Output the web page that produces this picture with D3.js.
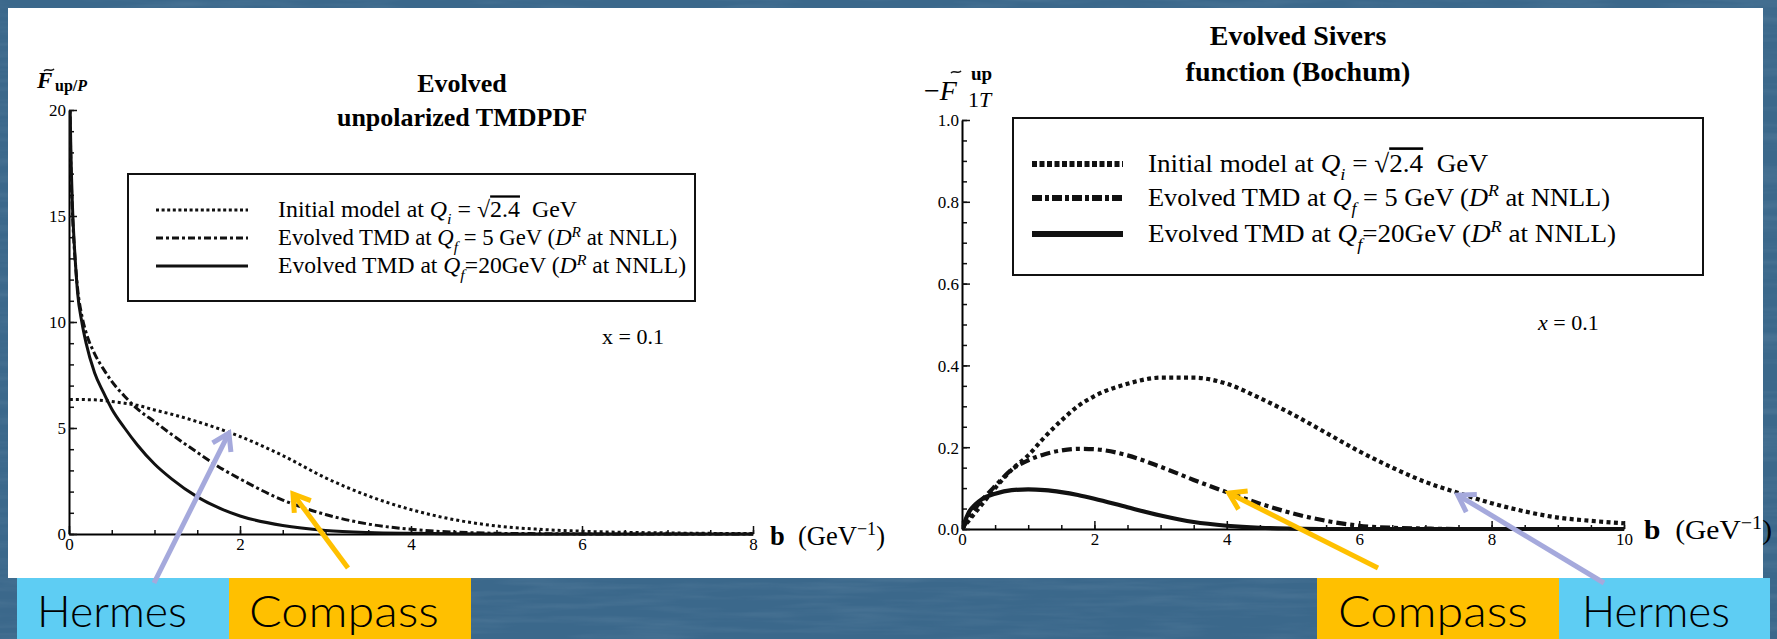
<!DOCTYPE html>
<html>
<head>
<meta charset="utf-8">
<script src="https://cdn.jsdelivr.net/npm/d3@7"></script>
<style>
  body { margin: 0; background: #3b688b; }
  svg { display: block; }
  text { font-family: "Liberation Serif", "Times New Roman", serif; fill: #000; white-space: pre; }
</style>
</head>
<body>
<svg id="chart" width="1777" height="639"></svg>
<script>
// ---------- data ----------

// left panel: evolved unpolarized TMDPDF (x = 0.1)
const leftB       = [0.01, 0.02, 0.04, 0.06, 0.08, 0.1, 0.15, 0.2, 0.3, 0.4, 0.5, 0.65, 0.8, 1.0, 1.2, 1.5, 1.8, 2.0, 2.5, 3.0, 3.5, 4.0, 4.5, 5.0, 5.5, 6.0, 7.0, 8.0];
const leftInitial = [6.35, 6.35, 6.35, 6.35, 6.35, 6.35, 6.35, 6.34, 6.33, 6.3, 6.25, 6.17, 6.07, 5.85, 5.65, 5.3, 4.9, 4.6, 3.7, 2.65, 1.8, 1.15, 0.68, 0.38, 0.22, 0.13, 0.05, 0.02];
const leftQ5      = [20.5, 17.8, 15.2, 13.6, 12.5, 11.6, 10.3, 9.5, 8.5, 7.8, 7.2, 6.5, 5.9, 5.3, 4.7, 3.85, 3.05, 2.6, 1.6, 0.92, 0.47, 0.22, 0.09, 0.035, 0.015, 0.005, 0, 0];
const leftQ20     = [21, 18.5, 15.5, 13.8, 12.5, 11.4, 10.0, 9.0, 7.6, 6.7, 5.9, 5.0, 4.2, 3.3, 2.6, 1.75, 1.15, 0.85, 0.4, 0.17, 0.07, 0.03, 0.01, 0, 0, 0, 0, 0];

// right panel: evolved Sivers function (Bochum)
const rightB       = [0, 0.1, 0.2, 0.3, 0.5, 0.75, 1, 1.25, 1.5, 1.75, 2, 2.5, 3, 3.5, 4, 4.5, 5, 5.5, 6, 6.5, 7, 7.5, 8, 8.5, 9, 9.5, 10];
const rightInitial = [0, 0.02, 0.04, 0.06, 0.1, 0.145, 0.18, 0.225, 0.265, 0.3, 0.325, 0.355, 0.37, 0.37, 0.355, 0.32, 0.28, 0.235, 0.19, 0.15, 0.115, 0.088, 0.063, 0.043, 0.028, 0.02, 0.014];
const rightQ5      = [0, 0.025, 0.05, 0.07, 0.105, 0.145, 0.168, 0.183, 0.192, 0.196, 0.195, 0.18, 0.152, 0.12, 0.09, 0.062, 0.038, 0.02, 0.008, 0.003, 0.001, 0, 0, 0, 0, 0, 0];
const rightQ20     = [0, 0.04, 0.06, 0.073, 0.086, 0.095, 0.097, 0.095, 0.09, 0.083, 0.074, 0.053, 0.033, 0.017, 0.008, 0.003, 0.001, 0, 0, 0, 0, 0, 0, 0, 0, 0, 0];

// ticks
const leftXTicks  = [0, 2, 4, 6, 8];
const leftYTicks  = [0, 5, 10, 15, 20];
const rightXTicks = [0, 2, 4, 6, 8, 10];
const rightYTicks = [0, 0.2, 0.4, 0.6, 0.8, 1.0];

// legend entries (same for both panels)
const legendLabels = [
  [{t: "Initial model at "}, {t: "Q", i: 1}, {t: "i", i: 1, sub: 1}, {t: " = √"}, {t: "2.4", over: 1}, {t: "  GeV"}],
  [{t: "Evolved TMD at "}, {t: "Q", i: 1}, {t: "f", i: 1, sub: 1}, {t: " = 5 GeV ("}, {t: "D", i: 1}, {t: "R", i: 1, sup: 1}, {t: " at NNLL)"}],
  [{t: "Evolved TMD at "}, {t: "Q", i: 1}, {t: "f", i: 1, sub: 1}, {t: "=20GeV ("}, {t: "D", i: 1}, {t: "R", i: 1, sup: 1}, {t: " at NNLL)"}]
];
const xAxisLabel = [{t: "b", b: 1}, {t: "  (GeV"}, {t: "−1", sup: 1}, {t: ")"}];

// experiment call-outs at the bottom
const callouts = ["Hermes", "Compass", "Compass", "Hermes"];

// ---------- drawing ----------
const svg = d3.select("#chart");
const W = 1777, H = 639;

// textured slide background
const defs = svg.append("defs");
const flt = defs.append("filter").attr("id", "grain").attr("x", 0).attr("y", 0).attr("width", "100%").attr("height", "100%");
flt.append("feTurbulence").attr("type", "fractalNoise").attr("baseFrequency", "0.01 0.12").attr("numOctaves", 3).attr("seed", 4);
flt.append("feColorMatrix").attr("values", "0 0 0 0 0.7  0 0 0 0 0.8  0 0 0 0 0.9  0 0 0 0.5 -0.2");
svg.append("rect").attr("width", W).attr("height", H).attr("fill", "#3b688b");
svg.append("rect").attr("width", W).attr("height", H).attr("filter", "url(#grain)").attr("opacity", 0.35);

// white figure panel
svg.append("rect").attr("x", 8).attr("y", 8).attr("width", 1755).attr("height", 570).attr("fill", "#fff");

// add rich text (italic / sub / sup / overline) into a text element
function rich(textSel, parts, size) {
  let shift = 0;
  parts.forEach(p => {
    const s = p.sub ? size * 0.28 : p.sup ? -size * 0.38 : 0;
    const ts = textSel.append("tspan").text(p.t);
    if (s !== shift) ts.attr("dy", s - shift);
    shift = s;
    if (p.i) ts.attr("font-style", "italic");
    if (p.b) ts.attr("font-weight", "bold");
    if (p.sub || p.sup) ts.attr("font-size", size * 0.68);
    if (p.over) ts.style("text-decoration", "overline");
  });
}

// small tilde accent drawn as a path
function tilde(cx, cy, w) {
  const h = w * 0.22;
  svg.append("path")
    .attr("d", `M${cx - w / 2},${cy + h / 2} C${cx - w / 4},${cy - h * 1.4} ${cx + w / 4},${cy + h * 1.4} ${cx + w / 2},${cy - h / 2}`)
    .attr("fill", "none").attr("stroke", "#111").attr("stroke-width", 1.4);
}

function drawPanel(p) {
  const x = d3.scaleLinear().domain(p.xDomain).range(p.xRange);
  const y = d3.scaleLinear().domain(p.yDomain).range(p.yRange);
  const g = svg.append("g");

  // clip so the steep curves stop at the top of the frame
  defs.append("clipPath").attr("id", p.id + "-clip")
    .append("rect")
      .attr("x", p.xRange[0]).attr("y", p.yRange[1])
      .attr("width", p.xRange[1] - p.xRange[0] + 2)
      .attr("height", p.yRange[0] - p.yRange[1] + 2);

  // minor ticks first
  const minorX = d3.range(p.xDomain[0], p.xDomain[1] + 1e-9, p.xMinorStep);
  const minorY = d3.range(p.yDomain[0], p.yDomain[1] + 1e-9, p.yMinorStep);
  g.append("g").attr("transform", `translate(0,${y(0)})`)
    .call(d3.axisBottom(x).tickValues(minorX).tickFormat("").tickSize(-4).tickSizeOuter(0))
    .call(a => a.select(".domain").remove());
  g.append("g").attr("transform", `translate(${x(0)},0)`)
    .call(d3.axisLeft(y).tickValues(minorY).tickFormat("").tickSize(-5).tickSizeOuter(0))
    .call(a => a.select(".domain").remove());

  // major ticks, pointing into the plot like Mathematica frames
  const xa = g.append("g").attr("transform", `translate(0,${y(0)})`)
    .call(d3.axisBottom(x).tickValues(p.xTicks).tickSize(-8).tickSizeOuter(0).tickPadding(4));
  const ya = g.append("g").attr("transform", `translate(${x(0)},0)`)
    .call(d3.axisLeft(y).tickValues(p.yTicks).tickFormat(p.yFmt).tickSize(-8).tickSizeOuter(0).tickPadding(3));
  [xa, ya].forEach(a => {
    a.attr("font-family", null).attr("font-size", null);
    a.selectAll("text").attr("font-size", p.tickSize).attr("fill", "#111");
    a.select(".domain").attr("stroke-width", 2);
  });
  ya.selectAll("text").attr("dy", "0.35em");
  g.selectAll(".tick line").attr("stroke", "#111").attr("stroke-width", 1.5);

  // curves
  const line = d3.line().x(d => x(d[0])).y(d => y(d[1])).curve(d3.curveMonotoneX);
  const cg = g.append("g").attr("clip-path", `url(#${p.id}-clip)`);
  p.series.forEach(s => {
    cg.append("path")
      .datum(p.b.map((b, k) => [b, s.values[k]]))
      .attr("d", line)
      .attr("fill", "none")
      .attr("stroke", "#111")
      .attr("stroke-width", p.lineWidth)
      .attr("stroke-dasharray", s.dash);
  });

  // legend
  const L = p.legend;
  g.append("rect").attr("x", L.x).attr("y", L.y).attr("width", L.w).attr("height", L.h)
    .attr("fill", "#fff").attr("stroke", "#111").attr("stroke-width", 2);
  p.series.forEach((s, k) => {
    const cy = L.rows[k];
    g.append("line").attr("x1", L.sx0).attr("x2", L.sx1).attr("y1", cy).attr("y2", cy)
      .attr("stroke", "#111").attr("stroke-width", L.sw).attr("stroke-dasharray", s.legendDash);
    const t = g.append("text").attr("x", L.tx).attr("y", cy + L.fs * 0.32)
      .attr("font-size", L.fs).attr("textLength", L.tw[k]).attr("lengthAdjust", "spacingAndGlyphs");
    rich(t, legendLabels[k], L.fs);
  });

  // x-axis title
  const xt = g.append("text").attr("x", p.xLabel.x).attr("y", p.xLabel.y).attr("font-size", 27)
    .attr("textLength", p.xLabel.w).attr("lengthAdjust", "spacingAndGlyphs");
  rich(xt, xAxisLabel, 27);

  // x = 0.1 note
  const xn = g.append("text").attr("x", p.note.x).attr("y", p.note.y).attr("font-size", 22);
  rich(xn, [{t: "x", i: p.note.italic}, {t: " = 0.1"}], 22);

  // title
  p.title.lines.forEach((s, k) => {
    g.append("text").attr("x", p.title.x).attr("y", p.title.y[k]).attr("text-anchor", "middle")
      .attr("font-size", p.title.size).attr("font-weight", "bold").text(s);
  });
  return {x, y};
}

const left = drawPanel({
  id: "left",
  xDomain: [0, 8], yDomain: [0, 20], xRange: [69, 753], yRange: [534, 110],
  xTicks: leftXTicks, yTicks: leftYTicks, xMinorStep: 0.5, yMinorStep: 1,
  yFmt: d3.format("d"), tickSize: 17, lineWidth: 3,
  b: leftB,
  series: [
    {values: leftInitial, dash: "3,3", legendDash: "3,2.6"},
    {values: leftQ5, dash: "8,3,3,3", legendDash: "7,3,3,3"},
    {values: leftQ20, dash: null, legendDash: null}
  ],
  legend: {x: 128, y: 174, w: 567, h: 127, rows: [210, 238, 266], sx0: 156, sx1: 248, sw: 3,
           tx: 278, fs: 23, tw: [299, 399, 408]},
  xLabel: {x: 770, y: 545, w: 115},
  note: {x: 602, y: 344, italic: 0},
  title: {x: 462, y: [92, 126], size: 26, lines: ["Evolved", "unpolarized TMDPDF"]}
});

const right = drawPanel({
  id: "right",
  xDomain: [0, 10], yDomain: [0, 1], xRange: [962, 1624], yRange: [529, 120],
  xTicks: rightXTicks, yTicks: rightYTicks, xMinorStep: 0.5, yMinorStep: 0.05,
  yFmt: d3.format(".1f"), tickSize: 17, lineWidth: 4.2,
  b: rightB,
  series: [
    {values: rightInitial, dash: "4,3.4", legendDash: "5,2.5"},
    {values: rightQ5, dash: "10,4,4,4", legendDash: "10,3,4,3"},
    {values: rightQ20, dash: null, legendDash: null}
  ],
  legend: {x: 1013, y: 118, w: 690, h: 157, rows: [164, 198, 234], sx0: 1032, sx1: 1123, sw: 6,
           tx: 1148, fs: 26, tw: [340, 462, 468]},
  xLabel: {x: 1644, y: 539, w: 128},
  note: {x: 1538, y: 330, italic: 1},
  title: {x: 1298, y: [45, 81], size: 28, lines: ["Evolved Sivers", "function (Bochum)"]}
});

// y-axis labels
svg.append("text").attr("x", 37).attr("y", 88).attr("font-size", 23)
  .call(t => rich(t, [{t: "F", i: 1, b: 1}], 23));
tilde(49, 70, 10);
svg.append("text").attr("x", 55).attr("y", 91).attr("font-size", 16)
  .call(t => rich(t, [{t: "up/", b: 1}, {t: "P", i: 1, b: 1}], 16));

svg.append("text").attr("x", 924).attr("y", 100).attr("font-size", 28)
  .call(t => rich(t, [{t: "−"}, {t: "F", i: 1}], 28));
tilde(956, 72, 10);
svg.append("text").attr("x", 971).attr("y", 80).attr("font-size", 19).attr("font-weight", "bold").text("up");
svg.append("text").attr("x", 968).attr("y", 107).attr("font-size", 22)
  .call(t => rich(t, [{t: "1"}, {t: "T", i: 1}], 22));

// bottom call-out boxes
const boxes = [
  {x0: 17, x1: 229, fill: "#5ecdf3", tx: 37, tw: 150},
  {x0: 229, x1: 471, fill: "#ffc000", tx: 249, tw: 190},
  {x0: 1317, x1: 1559, fill: "#ffc000", tx: 1338, tw: 190},
  {x0: 1559, x1: 1770, fill: "#5ecdf3", tx: 1582, tw: 148}
];
boxes.forEach((b, k) => {
  svg.append("rect").attr("x", b.x0).attr("y", 578).attr("width", b.x1 - b.x0).attr("height", H - 578).attr("fill", b.fill);
  svg.append("text").attr("x", b.tx).attr("y", 627).attr("font-size", 44).attr("font-weight", 300)
    .style("font-family", "Lato, 'Noto Sans', sans-serif")
    .attr("textLength", b.tw).attr("lengthAdjust", "spacingAndGlyphs")
    .text(callouts[k]);
});

// arrows from the call-outs to the curves (tips given in data coordinates)
const arrows = [
  {panel: left,  tip: [1.87, 4.76], tail: [154, 583], color: "#a5a9dc"},
  {panel: left,  tip: [2.62, 1.89], tail: [348, 568], color: "#ffc000"},
  {panel: right, tip: [4.03, 0.088], tail: [1378, 568], color: "#ffc000"},
  {panel: right, tip: [7.49, 0.083], tail: [1604, 583], color: "#a5a9dc"}
];
arrows.forEach(a => {
  const tx = a.panel.x(a.tip[0]), ty = a.panel.y(a.tip[1]);
  const ang = Math.atan2(ty - a.tail[1], tx - a.tail[0]);
  const head = 19, spread = Math.PI / 5.5;
  const g = svg.append("g").attr("stroke", a.color).attr("stroke-width", 5).attr("fill", "none").attr("stroke-linecap", "butt");
  g.append("line").attr("x1", a.tail[0]).attr("y1", a.tail[1]).attr("x2", tx).attr("y2", ty);
  g.append("path").attr("stroke-linejoin", "miter")
    .attr("d", d3.line()([
      [tx - head * Math.cos(ang - spread), ty - head * Math.sin(ang - spread)],
      [tx, ty],
      [tx - head * Math.cos(ang + spread), ty - head * Math.sin(ang + spread)]
    ]));
});
</script>
</body>
</html>
